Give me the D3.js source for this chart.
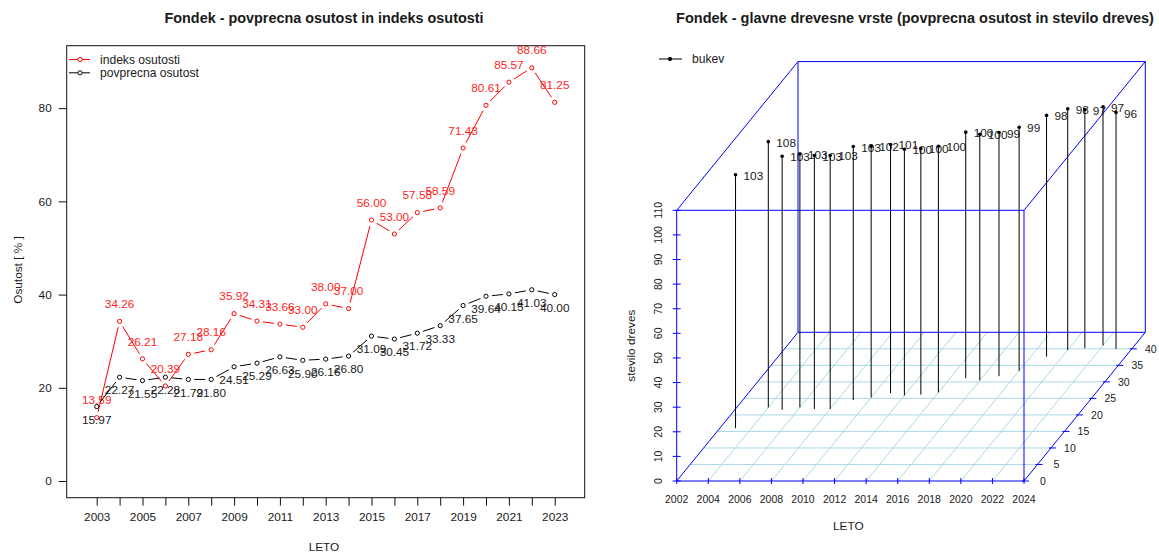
<!DOCTYPE html>
<html>
<head>
<meta charset="utf-8">
<script src="https://cdn.jsdelivr.net/npm/d3@7"></script>
<style>
    html, body { margin: 0; padding: 0; background: #fff; }
    svg { display: block; }
    text { font-family: "Liberation Sans", Arial, sans-serif; fill: #1a1a1a; }
</style>
</head>
<body>
<div id="chart"></div>
<script>
// Data
const years = [2003, 2004, 2005, 2006, 2007, 2008, 2009, 2010, 2011, 2012, 2013,
    2014, 2015, 2016, 2017, 2018, 2019, 2020, 2021, 2022, 2023];
const indeksOsutosti = [13.59, 34.26, 26.21, 20.39, 27.18, 28.16, 35.92, 34.31, 33.66, 33.00, 38.00,
    37.00, 56.00, 53.00, 57.58, 58.59, 71.43, 80.61, 85.57, 88.66, 81.25];
const povprecnaOsutost = [15.97, 22.27, 21.55, 22.28, 21.79, 21.80, 24.51, 25.29, 26.63, 25.90, 26.16,
    26.80, 31.09, 30.45, 31.72, 33.33, 37.65, 39.64, 40.15, 41.03, 40.00];
const steviloDreves = [103, 108, 103, 103, 103, 103, 103, 102, 101, 100, 100,
    100, 100, 100, 99, 99, 98, 98, 97, 97, 96];
const leftYTicks = [0, 20, 40, 60, 80];
const boxYearTicks = [2002, 2004, 2006, 2008, 2010, 2012, 2014, 2016, 2018, 2020, 2022, 2024];
const boxOsutostTicks = [0, 5, 10, 15, 20, 25, 30, 35, 40];
const boxDrevesTicks = [0, 10, 20, 30, 40, 50, 60, 70, 80, 90, 100, 110];

const svg = d3.select('#chart').append('svg')
    .attr('width', 1159)
    .attr('height', 554);

function addText(x, y, str, size, opts) {
    opts = opts || {};
    const t = svg.append('text')
        .attr('font-size', size)
        .attr('text-anchor', opts.anchor || 'middle')
        .text(str);
    if (opts.rotate) {
        t.attr('transform', `translate(${x},${y})rotate(-90)`);
    } else {
        t.attr('x', x).attr('y', y);
    }
    if (opts.bold) t.attr('font-weight', 'bold');
    if (opts.color) t.style('fill', opts.color);
    return t;
}

// ---- Left chart ----
const left = { x0: 66.7, x1: 584.7, y0: 497.7, y1: 45.7 };
const x = d3.scaleLinear().domain([2001.69, 2024.31]).range([left.x0, left.x1]);
const y = d3.scaleLinear().domain([-3.58, 93.4]).range([left.y0, left.y1]);

function styleAxis(g) {
    g.select('.domain').remove();
    g.selectAll('.tick line').attr('stroke', '#111');
    g.selectAll('.tick text').attr('font-size', 11.8).style('font-family', '"Liberation Sans", Arial, sans-serif');
}

svg.append('g')
    .attr('transform', `translate(0,${left.y0})`)
    .call(d3.axisBottom(x)
        .tickValues(years)
        .tickSize(8)
        .tickPadding(7)
        .tickFormat(d => (d % 2 === 1 ? d : '')))
    .call(styleAxis);

svg.append('g')
    .attr('transform', `translate(${left.x0},0)`)
    .call(d3.axisLeft(y)
        .tickValues(leftYTicks)
        .tickSize(8)
        .tickPadding(7))
    .call(styleAxis);

svg.append('rect')
    .attr('x', left.x0)
    .attr('y', left.y1)
    .attr('width', left.x1 - left.x0)
    .attr('height', left.y0 - left.y1)
    .attr('fill', 'none')
    .attr('stroke', '#111');

// R type="b": line segments stop short of the points
function drawSeries(values, color, labelDy) {
    const gap = 6;
    const g = svg.append('g');
    values.forEach((v, i) => {
        if (i === 0) return;
        const ax = x(years[i - 1]), ay = y(values[i - 1]);
        const bx = x(years[i]), by = y(v);
        const len = Math.hypot(bx - ax, by - ay);
        if (len <= gap * 2) return;
        const ux = (bx - ax) / len, uy = (by - ay) / len;
        g.append('line')
            .attr('x1', ax + ux * gap)
            .attr('y1', ay + uy * gap)
            .attr('x2', bx - ux * gap)
            .attr('y2', by - uy * gap)
            .attr('stroke', color);
    });
    g.selectAll('circle')
        .data(values)
        .enter()
        .append('circle')
        .attr('cx', (d, i) => x(years[i]))
        .attr('cy', d => y(d))
        .attr('r', 2.1)
        .attr('fill', 'none')
        .attr('stroke', color);
    g.selectAll('text')
        .data(values)
        .enter()
        .append('text')
        .attr('x', (d, i) => x(years[i]))
        .attr('y', d => y(d) + labelDy + 4.2)
        .attr('text-anchor', 'middle')
        .attr('font-size', 11.8)
        .style('fill', color === 'red' ? '#ff1f1f' : '#1a1a1a')
        .text(d => d.toFixed(2));
}

drawSeries(indeksOsutosti, 'red', -17.5);
drawSeries(povprecnaOsutost, 'black', 13);

function legendRow(x1, x2, px, ly, color, filled, label, textX) {
    svg.append('line')
        .attr('x1', x1).attr('x2', x2)
        .attr('y1', ly).attr('y2', ly)
        .attr('stroke', color);
    svg.append('circle')
        .attr('cx', px).attr('cy', ly)
        .attr('r', filled ? 1.7 : 2.1)
        .attr('fill', filled ? color : '#fff')
        .attr('stroke', color);
    addText(textX, ly + 4.2, label, 12.1, { anchor: 'start' });
}

legendRow(69, 90, 80, 59.5, 'red', false, 'indeks osutosti', 100);
legendRow(69, 90, 80, 72.8, 'black', false, 'povprecna osutost', 100);

addText(324, 23, 'Fondek - povprecna osutost in indeks osutosti', 14.4, { bold: true });
addText(324, 551, 'LETO', 11.8);
addText(22, 270, 'Osutost [ % ]', 11.8, { rotate: true });

// ---- Right chart: 3D box, projected by hand as scatterplot3d does ----
const boxX = d3.scaleLinear().domain([2002, 2024]).range([676.7, 1024]);
const boxZ = d3.scaleLinear().domain([0, 110]).range([481, 210.3]);
const boxDepth = d3.scaleLinear().domain([0, 45]).range([0, 1]);
const shiftX = 121.3;
const shiftY = -148.7;

function project(year, osutost, dreves) {
    const f = boxDepth(osutost);
    return [boxX(year) + f * shiftX, boxZ(dreves) + f * shiftY];
}

function seg3d(a, b, color, width) {
    svg.append('line')
        .attr('x1', a[0]).attr('y1', a[1])
        .attr('x2', b[0]).attr('y2', b[1])
        .attr('stroke', color)
        .attr('stroke-width', width || 1);
}

// floor grid
boxOsutostTicks.slice(1).forEach(t => {
    seg3d(project(2002, t, 0), project(2024, t, 0), '#add8e6');
});
boxYearTicks.slice(1, -1).forEach(t => {
    seg3d(project(t, 0, 0), project(t, 45, 0), '#add8e6');
});

// box edges
const corners = [
    [[2002, 0, 0], [2024, 0, 0]], [[2002, 0, 110], [2024, 0, 110]],
    [[2002, 45, 0], [2024, 45, 0]], [[2002, 45, 110], [2024, 45, 110]],
    [[2002, 0, 0], [2002, 0, 110]], [[2024, 0, 0], [2024, 0, 110]],
    [[2002, 45, 0], [2002, 45, 110]], [[2024, 45, 0], [2024, 45, 110]],
    [[2002, 0, 0], [2002, 45, 0]], [[2024, 0, 0], [2024, 45, 0]],
    [[2002, 0, 110], [2002, 45, 110]], [[2024, 0, 110], [2024, 45, 110]]
];
corners.forEach(c => seg3d(project(...c[0]), project(...c[1]), 'blue'));

// axis ticks and labels
boxYearTicks.forEach(t => {
    const p = project(t, 0, 0);
    seg3d([p[0], p[1] - 3], [p[0], p[1] + 3], 'blue');
    addText(p[0], p[1] + 21.5, t, 10.5);
});
boxDrevesTicks.forEach(t => {
    const p = project(2002, 0, t);
    seg3d([p[0] - 4, p[1]], [p[0] + 4, p[1]], 'blue');
    addText(p[0] - 15, p[1], t, 10.5, { rotate: true });
});
boxOsutostTicks.forEach(t => {
    const p = project(2024, t, 0);
    seg3d([p[0] - 2, p[1]], [p[0] + 5, p[1]], 'blue');
    addText(p[0] + 19, p[1] + 4, t, 10.5);
});

// stems with points on top
years.forEach((yr, i) => {
    const base = project(yr, povprecnaOsutost[i], 0);
    const top = project(yr, povprecnaOsutost[i], steviloDreves[i]);
    seg3d(base, top, 'black');
    svg.append('circle')
        .attr('cx', top[0]).attr('cy', top[1])
        .attr('r', 1.8)
        .attr('fill', 'black');
    addText(top[0] + 8, top[1] + 5, steviloDreves[i], 11.8, { anchor: 'start' });
});

legendRow(659, 682, 670, 59, 'black', true, 'bukev', 692);

addText(915, 23, 'Fondek - glavne drevesne vrste (povprecna osutost in stevilo dreves)', 14.5, { bold: true });
addText(848.3, 530, 'LETO', 11.8);
addText(635, 345.7, 'stevilo dreves', 11.8, { rotate: true });
</script>
</body>
</html>
